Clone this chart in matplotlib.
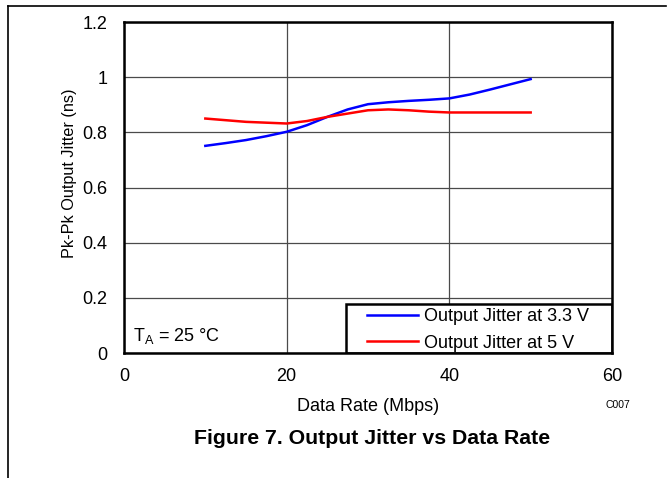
import matplotlib
matplotlib.use("Agg")
import matplotlib.pyplot as plt
from matplotlib.lines import Line2D
from matplotlib.patches import Rectangle

plt.rcParams["font.family"] = ["Liberation Sans", "DejaVu Sans"]

# values
data_rate = [10, 12.5, 15, 17.5, 20, 22.5, 25, 27.5, 30, 32.5, 35, 37.5, 40, 42.5, 45, 47.5, 50]
jitter_3v3 = [0.751, 0.761, 0.772, 0.786, 0.802, 0.826, 0.856, 0.883, 0.902, 0.909,
              0.914, 0.918, 0.923, 0.937, 0.955, 0.974, 0.993]
jitter_5v = [0.850, 0.844, 0.838, 0.835, 0.832, 0.841, 0.856, 0.868, 0.880, 0.883,
             0.880, 0.875, 0.872, 0.872, 0.872, 0.872, 0.872]

x_ticks = [0, 20, 40, 60]
y_ticks = [0, 0.2, 0.4, 0.6, 0.8, 1.0, 1.2]
y_tick_labels = ["0", "0.2", "0.4", "0.6", "0.8", "1", "1.2"]

W, H = 671, 478
FS = 13
fig = plt.figure(figsize=(W / 100, H / 100), dpi=100)
ax = fig.add_axes([124 / W, 1 - 353 / H, (612 - 124) / W, (353 - 22) / H])

ax.plot(data_rate, jitter_3v3, color="#0000FF", lw=1.8, label="Output Jitter at 3.3 V")
ax.plot(data_rate, jitter_5v, color="#FF0000", lw=1.8, label="Output Jitter at 5 V")

ax.set_xlim(0, 60)
ax.set_ylim(0, 1.2)
ax.set_xticks(x_ticks)
ax.set_yticks(y_ticks)
ax.set_yticklabels(y_tick_labels)
ax.tick_params(axis="x", length=0, labelsize=FS, pad=10.5)
ax.tick_params(axis="y", length=0, labelsize=FS, pad=12)
ax.grid(True, color="#4a4a4a", lw=0.9)
ax.set_axisbelow(True)
for s in ax.spines.values():
    s.set_linewidth(1.8)
    s.set_color("black")
    s.set_zorder(6)

ax.set_xlabel("Data Rate (Mbps)", fontsize=FS, labelpad=10)
ax.set_ylabel("Pk-Pk Output Jitter (ns)", fontsize=11.7)
ax.yaxis.set_label_coords((77 - 124) / 488, (353 - 173.5) / 331)

ax.text(9 / 488, (353 - 336) / 331, r"T$_\mathregular{A}$ = 25 °C", transform=ax.transAxes,
        fontsize=FS, ha="left", va="center")

# legend box spans from x~346 px to the right spine
box_x0 = (346 - 124) / 488
box_h = 49 / 331
ax.add_patch(Rectangle((box_x0, 0), 1 - box_x0, box_h, transform=ax.transAxes,
                       facecolor="white", edgecolor="black", lw=1.8, zorder=4))
leg = ax.legend(loc="center left", bbox_to_anchor=((367 - 124) / 488, (353 - 330) / 331),
                borderaxespad=0, frameon=False, fontsize=FS,
                handlelength=2.85, handletextpad=0.3, borderpad=0,
                labelspacing=0.5)
leg.set_zorder(5)

fig.text(618 / W, 1 - 405 / H, "C007", fontsize=7.5, ha="center", va="center")
fig.text(372 / W, 1 - 438 / H, "Figure 7. Output Jitter vs Data Rate",
         fontsize=15.3, fontweight="bold", ha="center", va="center")

# page frame (top and left edges)
fig.add_artist(Line2D([8 / W, 666 / W], [1 - 6 / H, 1 - 6 / H], color="black", lw=1.2))
fig.add_artist(Line2D([8 / W, 8 / W], [1 - 6 / H, 0], color="black", lw=1.2))

fig.savefig("out.png", dpi=100)
